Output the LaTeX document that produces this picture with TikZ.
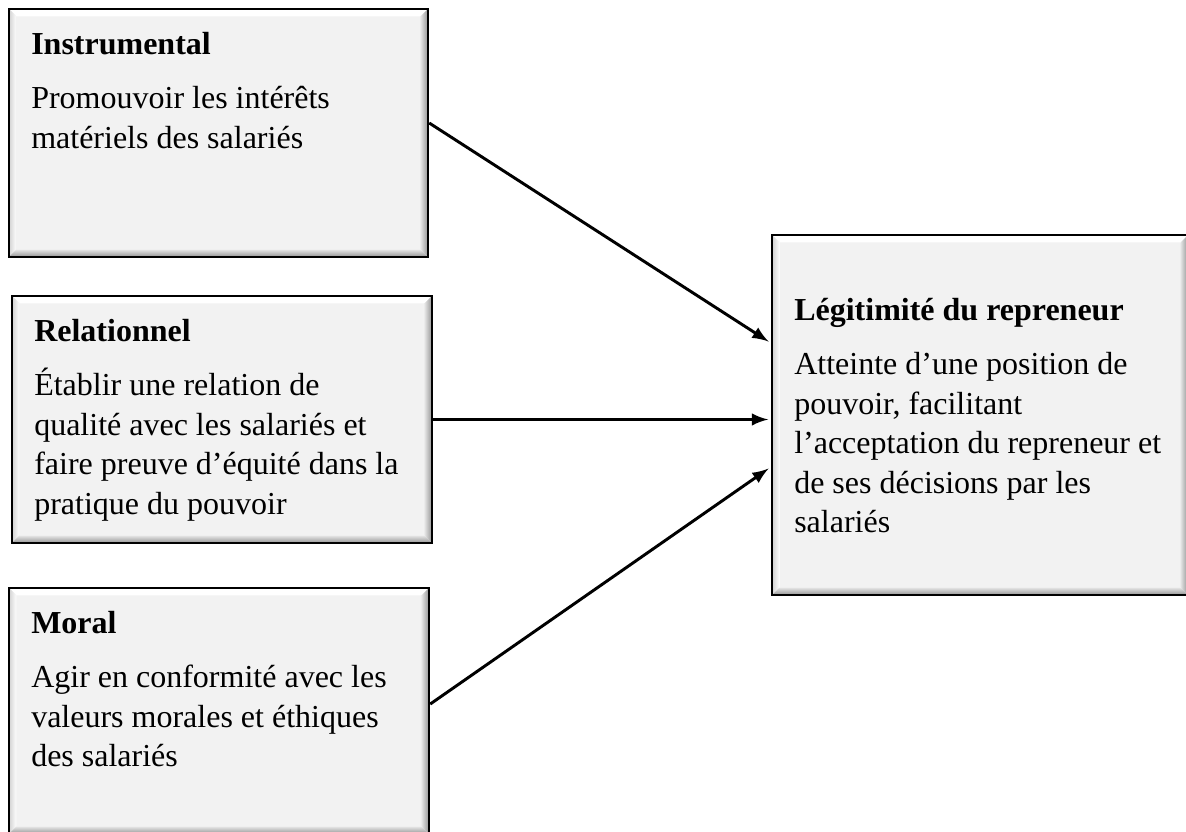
\documentclass[tikz,border=0pt]{standalone}
\usepackage{fontspec}
\setmainfont{Liberation Serif}
\usetikzlibrary{positioning,fit}
\definecolor{boxfill}{HTML}{F2F2F2}
\newcommand{\bw}{2.8pt}
\newcommand{\firstline}{\rule{0pt}{9.7pt}}
\tikzset{
    bevelbox/.style = {shape=rectangle, draw=black, line width=0.9pt,
        fill=boxfill, inner sep=0pt,
        path picture={
            \fill[white] (path picture bounding box.north west)
                -- (path picture bounding box.north east)
                -- ([shift={(-\bw,-\bw)}]path picture bounding box.north east)
                -- ([shift={(\bw,-\bw)}]path picture bounding box.north west) -- cycle;
            \shade[left color=gray!35, right color=white] (path picture bounding box.north west)
                -- (path picture bounding box.south west)
                -- ([shift={(\bw,\bw)}]path picture bounding box.south west)
                -- ([shift={(\bw,-\bw)}]path picture bounding box.north west) -- cycle;
            \shade[left color=gray!20, right color=gray!85] (path picture bounding box.north east)
                -- (path picture bounding box.south east)
                -- ([shift={(-\bw,\bw)}]path picture bounding box.south east)
                -- ([shift={(-\bw,-\bw)}]path picture bounding box.north east) -- cycle;
            \shade[top color=gray!20, bottom color=gray!85] (path picture bounding box.south west)
                -- (path picture bounding box.south east)
                -- ([shift={(-\bw,\bw)}]path picture bounding box.south east)
                -- ([shift={(\bw,\bw)}]path picture bounding box.south west) -- cycle;
        }},
    boxtext/.style  = {align=left, inner sep=0pt},
    link/.style     = {draw, -latex, line width=1.1pt, shorten >=1pt}
}

\begin{document}
\begin{tikzpicture}
    [
    x                 = 0.375pt,
    y                 = -0.375pt,
    every node/.style = {font=\fontsize{12}{14.8}\selectfont}
    ]
    \useasboundingbox (0,0) rectangle (1186,832);
    \node[bevelbox, fit={(9,9) (428,257)}] (instr) {};
    \node[bevelbox, fit={(12,296) (432,543)}] (relat) {};
    \node[bevelbox, fit={(9,588) (429,834)}] (moral) {};
    \node[bevelbox, fit={(772,235) (1188,595)}] (legit) {};

    \node[boxtext, below right=7.55pt and 8.6pt of instr.north west] (instrtext)
        {\firstline\textbf{Instrumental}\\[5.6pt]
         Promouvoir les intérêts\\
         matériels des salariés};
    \node[boxtext, below right=7.55pt and 8.6pt of relat.north west] (relattext)
        {\firstline\textbf{Relationnel}\\[5.6pt]
         Établir une relation de\\
         qualité avec les salariés et\\
         faire preuve d’équité dans la\\
         pratique du pouvoir};
    \node[boxtext, below right=7.55pt and 8.6pt of moral.north west] (moraltext)
        {\firstline\textbf{Moral}\\[5.6pt]
         Agir en conformité avec les\\
         valeurs morales et éthiques\\
         des salariés};
    \node[boxtext, below right=22.55pt and 8.6pt of legit.north west] (legittext)
        {\firstline\textbf{Légitimité du repreneur}\\[5.6pt]
         Atteinte d’une position de\\
         pouvoir, facilitant\\
         l’acceptation du repreneur et\\
         de ses décisions par les\\
         salariés};

    \draw[link] ([yshift=3.75pt]instr.east) -- ([yshift=27pt]legit.west);
    \draw[link] (relat.east) -- (relat.east -| legit.west);
    \draw[link] ([yshift=2.6pt]moral.east) -- ([yshift=-19.5pt]legit.west);
\end{tikzpicture}
\end{document}
